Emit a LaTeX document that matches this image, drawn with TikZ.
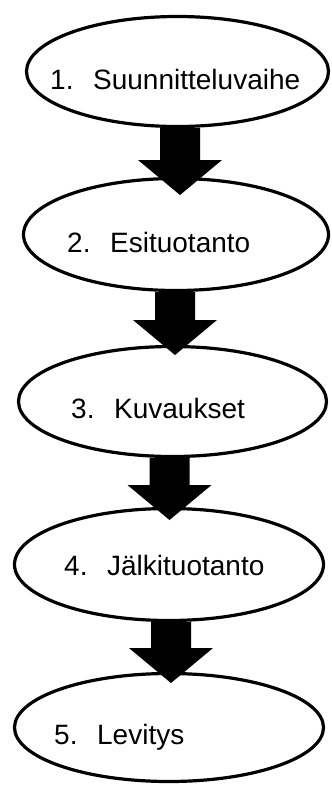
\documentclass[tikz,border=0pt]{standalone}
\usepackage{fontspec}
\setmainfont{Liberation Sans}
\usetikzlibrary{shapes.geometric,calc}
\tikzset{
  phase/.style={draw=black, line width=3.2pt, ellipse, inner sep=0pt, fill=white},
  lbl/.style={anchor=base west, inner sep=0pt, font=\fontsize{28}{33}\selectfont},
}
\newcommand{\blockarr}[2]{%
  \fill[black] let \p1=(#1), \p2=(#2) in
    (\x1-20pt,\y1) -- (\x1+20pt,\y1) -- (\x1+20pt,\y2+35pt) -- (\x1+42pt,\y2+35pt)
    -- (\x2,\y2) -- (\x1-42pt,\y2+35pt) -- (\x1-20pt,\y2+35pt) -- cycle;}
\newcommand{\numtxt}[2]{\makebox[43pt][l]{#1}#2}
\begin{document}
\begin{tikzpicture}[x=1pt,y=-1pt]
\useasboundingbox (0,0) rectangle (332,785);
\node[phase, minimum width=302pt, minimum height=110pt] (e1) at (177.5,71.5) {};
\node[phase, minimum width=305pt, minimum height=112pt] (e2) at (176,234.5) {};
\node[phase, minimum width=308pt, minimum height=110pt] (e3) at (172.5,401.5) {};
\node[phase, minimum width=309pt, minimum height=112pt] (e4) at (169,564.5) {};
\node[phase, minimum width=309pt, minimum height=108pt] (e5) at (169,727.5) {};
\node[lbl] (l1) at (50,89) {\numtxt{1.}{Suunnitteluvaihe}};
\node[lbl] (l2) at (67,252) {\numtxt{2.}{Esituotanto}};
\node[lbl] (l3) at (71,418) {\numtxt{3.}{Kuvaukset}};
\node[lbl] (l4) at (64,575) {\numtxt{4.}{Jälkituotanto}};
\node[lbl] (l5) at (54,744) {\numtxt{5.}{Levitys}};
\coordinate (t1) at (180,195);
\coordinate (t2) at (175,355);
\coordinate (t3) at (169.5,520);
\coordinate (t4) at (171,683);
\blockarr{t1 |- e1.south}{t1}
\blockarr{t2 |- e2.south}{t2}
\blockarr{t3 |- e3.south}{t3}
\blockarr{t4 |- e4.south}{t4}
\end{tikzpicture}
\end{document}
